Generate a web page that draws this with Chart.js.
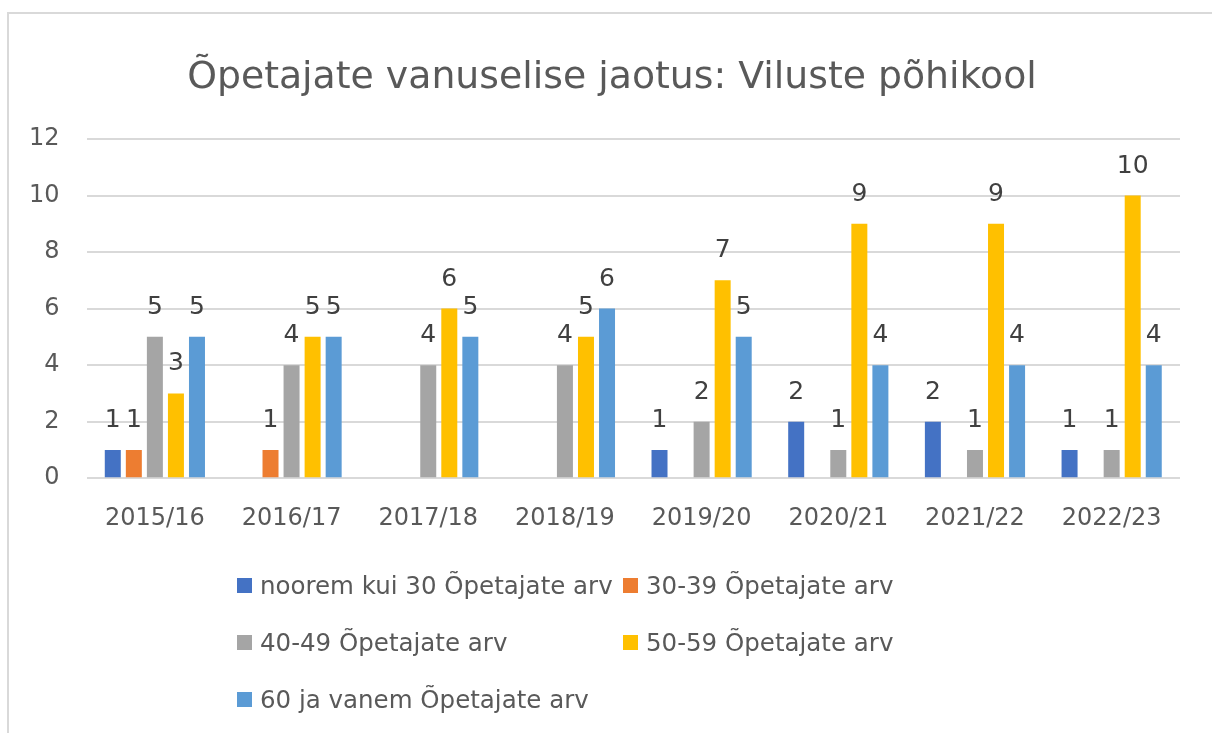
<!DOCTYPE html>
<html>
<head>
<meta charset="utf-8">
<script src="https://cdn.jsdelivr.net/npm/chart.js@4"></script>
<style>
  html, body { margin: 0; padding: 0; background: #fff; overflow: hidden; }
  body { width: 1212px; height: 733px; position: relative; font-family: "DejaVu Sans", sans-serif; }
  #frame { position: absolute; left: 7px; top: 12px; width: 1300px; height: 800px; border: 2px solid #d9d9d9; }
  #title { position: absolute; left: 0; top: 51px; width: 1224px; text-align: center; font-size: 37.8px; color: #595959; line-height: 48px; white-space: nowrap; }
  #wrap { position: absolute; left: 0; top: 0; width: 1212px; height: 570px; }
  #legend { position: absolute; left: 237px; top: 563px; display: grid; grid-template-columns: 386px 300px; row-gap: 13px; }
  .item { display: flex; align-items: center; font-size: 24.5px; color: #595959; height: 44px; white-space: nowrap; }
  .box { flex: 0 0 15px; height: 15px; margin-right: 8px; }
</style>
</head>
<body>
<div id="frame"></div>
<div id="wrap"><canvas id="ageChart"></canvas></div>
<div id="title">Õpetajate vanuselise jaotus: Viluste põhikool</div>
<div id="legend"></div>
<script>
const years = ["2015/16", "2016/17", "2017/18", "2018/19", "2019/20", "2020/21", "2021/22", "2022/23"];
const seriesNames = [
    "noorem kui 30 Õpetajate arv",
    "30-39 Õpetajate arv",
    "40-49 Õpetajate arv",
    "50-59 Õpetajate arv",
    "60 ja vanem Õpetajate arv"
];
const under30 = [1, 0, 0, 0, 1, 2, 2, 1];
const age30s = [1, 1, 0, 0, 0, 0, 0, 0];
const age40s = [5, 4, 4, 4, 2, 1, 1, 1];
const age50s = [3, 5, 6, 5, 7, 9, 9, 10];
const age60plus = [5, 5, 5, 6, 5, 4, 4, 4];
const yTicks = [0, 2, 4, 6, 8, 10, 12];

const colors = ["#4472C4", "#ED7D31", "#A5A5A5", "#FFC000", "#5B9BD5"];
const values = [under30, age30s, age40s, age50s, age60plus];
const font = "'DejaVu Sans', sans-serif";

// value labels above the bars, zero values are left blank
const barLabels = {
    id: "barLabels",
    afterDatasetsDraw(chart) {
        const ctx = chart.ctx;
        ctx.save();
        ctx.font = "25px " + font;
        ctx.fillStyle = "#404040";
        ctx.textAlign = "center";
        ctx.textBaseline = "alphabetic";
        chart.data.datasets.forEach((ds, i) => {
            chart.getDatasetMeta(i).data.forEach((bar, j) => {
                if (ds.data[j] === 0) return;
                ctx.fillText(ds.data[j], bar.x, bar.y - 23);
            });
        });
        ctx.restore();
    }
};

const ctx = document.getElementById("ageChart").getContext("2d");
const chart = new Chart(ctx, {
    type: "bar",
    data: {
        labels: years,
        datasets: seriesNames.map((name, i) => ({
            label: name,
            data: values[i],
            backgroundColor: colors[i],
            categoryPercentage: 0.77,
            barPercentage: 0.76
        }))
    },
    options: {
        responsive: true,
        maintainAspectRatio: false,
        animation: false,
        layout: { padding: { left: 2, right: 32, top: 139, bottom: 19 } },
        plugins: {
            legend: { display: false },
            tooltip: { enabled: false },
            title: { display: false }
        },
        scales: {
            x: {
                grid: { display: false },
                border: { display: false },
                ticks: { color: "#595959", font: { size: 24, family: font }, padding: 18 }
            },
            y: {
                min: 0,
                max: 12,
                afterBuildTicks: axis => { axis.ticks = yTicks.map(v => ({ value: v })); },
                grid: { color: "#d9d9d9", lineWidth: 2, drawTicks: false },
                border: { display: false },
                ticks: { color: "#595959", font: { size: 24, family: font }, padding: 27 }
            }
        }
    },
    plugins: [barLabels]
});

const legend = document.getElementById("legend");
seriesNames.forEach((name, i) => {
    const item = document.createElement("div");
    item.className = "item";
    item.innerHTML = `<span class="box" style="background:${colors[i]}"></span>${name}`;
    legend.appendChild(item);
});
</script>
</body>
</html>
